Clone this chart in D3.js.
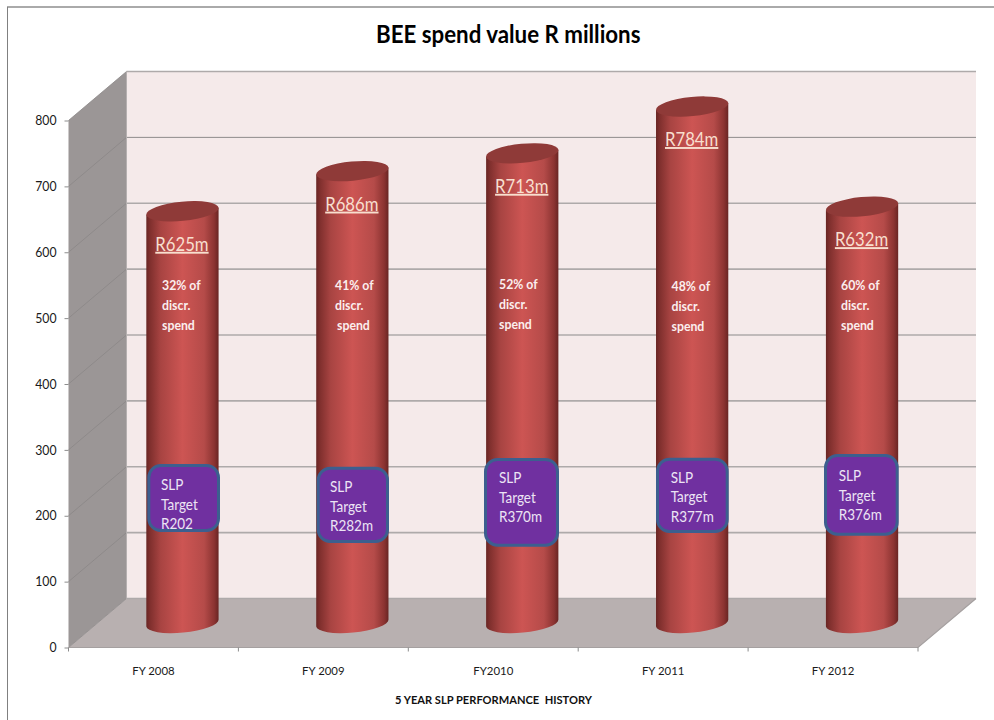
<!DOCTYPE html>
<html>
<head>
<meta charset="utf-8">
<title>BEE spend value R millions</title>
<script src="https://cdn.jsdelivr.net/npm/d3@7"></script>
<style>
  body { margin: 0; background: #fff; }
  text { font-family: Lato, "Open Sans", sans-serif; }
  .axis path { display: none; }
  .axis line { stroke: #8c8c8c; }
  .axis text { fill: #1a1a1a; }
</style>
</head>
<body>
<div id="container"></div>
<script>
var categories = ["FY 2008", "FY 2009", "FY2010", "FY 2011", "FY 2012"];
var spend = [625, 686, 713, 784, 632];
var spendLabels = ["R625m", "R686m", "R713m", "R784m", "R632m"];
var discrShare = ["32% of", "41% of", "52% of", "48% of", "60% of"];
var slpLabels = ["R202", "R282m", "R370m", "R377m", "R376m"];
var yTicks = [0, 100, 200, 300, 400, 500, 600, 700, 800];

// callouts were placed by hand on the original, so they get their own layout
var boxLeft = [147.3, 316.7, 484, 656, 824];
var boxRight = [220, 389, 559, 728.7, 898.7];
var boxTop = [464, 466.7, 458, 457.7, 454];
var boxBottom = [532, 543, 546.7, 533, 535.7];
var boxTextY = [26, 25.5, 25, 25, 27];
var boxTextX = [13.7, 13.3, 15, 14.7, 14.7];
var discrX = [162, 335, 499, 671.5, 841];
var discrY = [290, 289.5, 288.5, 290.5, 290];

var width = 994, height = 720;
var depthX = 58, depthY = 49;
var rx = 36.3, ry = 9.6, tilt = 5.5;

var svg = d3.select("#container").append("svg")
  .attr("width", width).attr("height", height)
  .style("display", "block");

var y = d3.scaleLinear().domain([0, 800]).range([647.5, 120.5]);
var x = d3.scaleBand().domain(categories).range([68.5, 918]);

// Lato is wider than the original face, so squeeze it a bit
function condense(sel, k) {
  sel.each(function() {
    d3.select(this)
      .attr("textLength", this.getComputedTextLength() * k)
      .attr("lengthAdjust", "spacingAndGlyphs");
  });
}

var defs = svg.append("defs");
var grad = defs.append("linearGradient").attr("id", "cyl");
[[0, "#682523"], [0.05, "#7f2f2d"], [0.2, "#a84442"], [0.5, "#cd5553"],
 [0.8, "#b54b49"], [0.94, "#8b3331"], [1, "#682523"]].forEach(function(s) {
  grad.append("stop").attr("offset", s[0]).attr("stop-color", s[1]);
});

// page frame
svg.append("line").attr("x1", 7).attr("x2", 994).attr("y1", 7).attr("y2", 7)
  .attr("stroke", "#aaaaaa").attr("stroke-width", 2);
svg.append("line").attr("x1", 7.5).attr("x2", 7.5).attr("y1", 7).attr("y2", 720)
  .attr("stroke", "#808080").attr("stroke-width", 1);

// chart box
var x0 = x.range()[0], x1 = x.range()[1];
var y0 = y(0), yTop = y(800);

svg.append("polygon").attr("fill", "#f5eaea")
  .attr("points", [[x0 + depthX, yTop - depthY], [x1 + depthX, yTop - depthY],
                   [x1 + depthX, y0 - depthY], [x0 + depthX, y0 - depthY]].join(" "));
svg.append("polygon").attr("fill", "#9b9696")
  .attr("points", [[x0, yTop], [x0 + depthX, yTop - depthY],
                   [x0 + depthX, y0 - depthY], [x0, y0]].join(" "));
svg.append("polygon").attr("fill", "#b8b0b0")
  .attr("points", [[x0, y0], [x0 + depthX, y0 - depthY],
                   [x1 + depthX, y0 - depthY], [x1, y0]].join(" "));

// gridlines, back wall then down the side wall
yTicks.forEach(function(t) {
  var gy = y(t) - depthY;
  svg.append("line").attr("x1", x0 + depthX).attr("x2", x1 + depthX)
    .attr("y1", gy).attr("y2", gy)
    .attr("stroke", t == 700 ? "#8f8b8b" : "#aeaaaa")
    .attr("stroke-width", t == 700 ? 1 : 1.6);
  svg.append("line").attr("x1", x0).attr("x2", x0 + depthX)
    .attr("y1", y(t)).attr("y2", gy)
    .attr("stroke", "#8a8686").attr("stroke-width", 0.8);
});
svg.append("path")
  .attr("d", "M" + x0 + "," + y0 + "H" + x1 + "L" + (x1 + depthX) + "," + (y0 - depthY))
  .attr("fill", "none").attr("stroke", "#a5a0a0").attr("stroke-width", 1.2);
svg.append("line").attr("x1", x0 + depthX).attr("x2", x0 + depthX)
  .attr("y1", yTop - depthY).attr("y2", y0 - depthY)
  .attr("stroke", "#b5b0b0");

// axes
var yAxis = svg.append("g").attr("class", "axis")
  .attr("transform", "translate(" + x0 + ",0)")
  .call(d3.axisLeft(y).tickValues(yTicks).tickSize(4).tickPadding(8));
yAxis.selectAll("text").style("font-size", "13px").call(condense, 0.94);

var xAxis = svg.append("g").attr("class", "axis")
  .attr("transform", "translate(0," + y0 + ")")
  .call(d3.axisBottom(x).tickSize(0).tickPadding(19));
xAxis.selectAll("text").style("font-size", "12px").call(condense, 0.95);
xAxis.selectAll("line.edge")
  .data(d3.range(categories.length + 1))
  .enter().append("line").attr("class", "edge")
  .attr("x1", function(i) { return x0 + i * x.bandwidth(); })
  .attr("x2", function(i) { return x0 + i * x.bandwidth(); })
  .attr("y1", 0).attr("y2", 4);

// cylinders
var rad = tilt * Math.PI / 180;
var ex = rx * Math.cos(rad), ey = rx * Math.sin(rad);
var baseY = y0 - depthY / 2;
var unit = (y(0) - y(1));

function topY(v) { return baseY - v * unit; }
function center(i) { return x(categories[i]) + x.bandwidth() / 2 + depthX / 2; }

var bars = svg.selectAll("g.bar").data(spend).enter().append("g").attr("class", "bar");

bars.append("path")
  .attr("fill", "url(#cyl)")
  .attr("d", function(d, i) {
    var c = center(i), t = topY(d);
    return "M" + (c - ex) + "," + (t + ey) +
      "L" + (c + ex) + "," + (t - ey) +
      "L" + (c + ex) + "," + (baseY - ey) +
      "A" + rx + "," + ry + " " + (-tilt) + " 0 1 " + (c - ex) + "," + (baseY + ey) + "Z";
  });
bars.append("ellipse")
  .attr("rx", rx).attr("ry", ry)
  .attr("fill", "#8f3a38")
  .attr("transform", function(d, i) {
    return "translate(" + center(i) + "," + topY(d) + ") rotate(" + (-tilt) + ")";
  });

bars.append("text")
  .attr("x", function(d, i) { return center(i) - 0.5; })
  .attr("y", function(d) { return topY(d) + 39.5; })
  .attr("text-anchor", "middle")
  .attr("fill", "#f8dfcf")
  .attr("text-decoration", "underline")
  .style("font-size", "19px")
  .text(function(d, i) { return spendLabels[i]; })
  .call(condense, 0.88);

// share of discretionary spend
bars.each(function(d, i) {
  var lines = [discrShare[i], "discr.", "spend"];
  var g = d3.select(this);
  lines.forEach(function(l, k) {
    g.append("text")
      .attr("x", discrX[i] + (i == 1 && k == 2 ? 2 : 0))
      .attr("y", discrY[i] + k * 20)
      .attr("fill", "#fbeeee")
      .attr("font-weight", 700)
      .style("font-size", "13.5px")
      .text(l)
      .call(condense, 0.91);
  });
});

// SLP target callouts
bars.each(function(d, i) {
  var g = d3.select(this);
  g.append("rect")
    .attr("x", boxLeft[i] + 1.5).attr("y", boxTop[i] + 1.5)
    .attr("width", boxRight[i] - boxLeft[i] - 3)
    .attr("height", boxBottom[i] - boxTop[i] - 3)
    .attr("rx", 12).attr("ry", 12)
    .attr("fill", "#7030a0")
    .attr("stroke", "#3c5f8f").attr("stroke-width", 3);
  ["SLP", "Target", slpLabels[i]].forEach(function(l, k) {
    g.append("text")
      .attr("x", boxLeft[i] + boxTextX[i])
      .attr("y", boxTop[i] + boxTextY[i] + k * 19.5)
      .attr("fill", "#ece4f4")
      .style("font-size", "15px")
      .text(l)
      .call(condense, 0.9);
  });
});

svg.append("text")
  .attr("x", 376).attr("y", 43)
  .attr("font-weight", 700)
  .attr("fill", "#000")
  .style("font-size", "24.5px")
  .text("BEE spend value R millions")
  .call(condense, 0.91);

svg.append("text")
  .attr("x", 395).attr("y", 703.5)
  .attr("font-weight", 700)
  .attr("fill", "#111")
  .style("font-size", "11px")
  .style("white-space", "pre")
  .text("5 YEAR SLP PERFORMANCE  HISTORY")
  .call(condense, 1.01);
</script>
</body>
</html>
